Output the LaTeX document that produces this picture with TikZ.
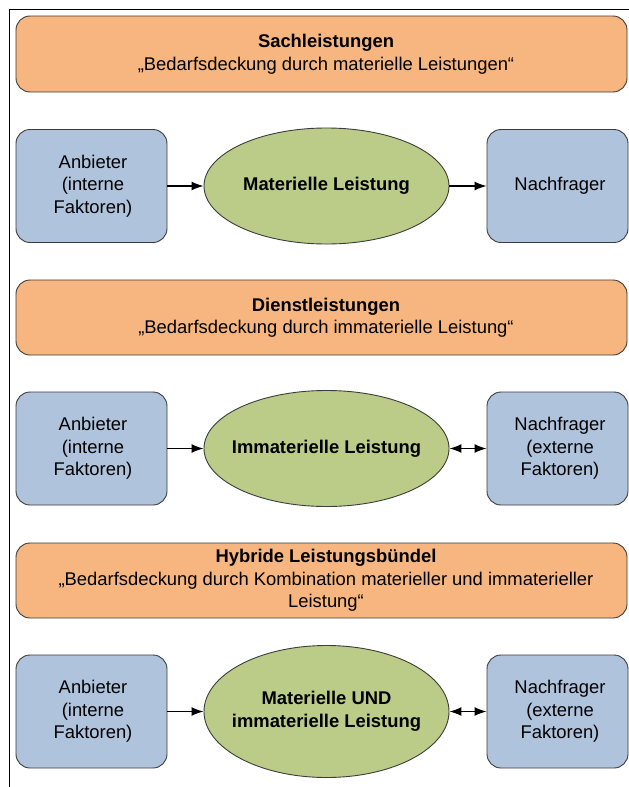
\documentclass[tikz,border=0pt]{standalone}
\usepackage{fontspec}
\setmainfont{Liberation Sans}
\usetikzlibrary{shapes.geometric,arrows.meta}

\definecolor{bandorange}{RGB}{247,182,127}
\definecolor{partyblue}{RGB}{176,195,220}
\definecolor{offergreen}{RGB}{186,204,135}
\definecolor{edgegray}{RGB}{60,60,60}

\begin{document}
\begin{tikzpicture}[x=1pt,y=-1pt,
  every node/.style={font=\fontsize{18.4}{22.5}\selectfont, text=black},
  band/.style={draw=edgegray, line width=0.9pt, fill=bandorange, rounded corners=14pt,
    minimum width=611pt, minimum height=76pt, inner sep=0pt},
  bandtext/.style={align=center, xshift=4.5pt},
  party/.style={draw=edgegray, line width=0.9pt, fill=partyblue, rounded corners=14pt,
    minimum height=113pt, align=center, inner sep=0pt},
  partytext/.style={align=center, xshift=2.5pt},
  offer/.style={ellipse, draw=edgegray, line width=0.9pt, fill=offergreen,
    minimum width=245pt, inner sep=0pt},
  offertext/.style={align=center, font=\fontsize{18.4}{22.5}\selectfont\bfseries},
  flow/.style={line width=1.4pt, -{Latex[length=12pt,width=9pt]}},
  exchange/.style={line width=1.4pt, {Latex[length=12pt,width=9pt]}-{Latex[length=12pt,width=9pt]}}
]
\useasboundingbox (0,0) rectangle (629,787);

% outer frame, open towards the right and bottom edges
\draw[line width=1pt, black] (9,787) -- (9,9) -- (629,9);

% --- Sachleistungen ---
\node[band, label={[bandtext]center:\textbf{Sachleistungen}\\„Bedarfsdeckung durch materielle Leistungen“}] (b1) at (321.5,54) {};
\node[party, minimum width=151pt] (a1) at (91.5,186) {\hspace*{3pt}Anbieter\\\hspace*{3pt}(interne\\\hspace*{3pt}Faktoren)};
\node[offer, minimum height=116pt, label={[offertext]center:Materielle Leistung}] (e1) at (326.5,186) {};
\node[party, minimum width=141pt, label={[partytext]center:Nachfrager}] (n1) at (557.5,186) {};
\draw[flow] (a1) -- (e1);
\draw[flow] (e1) -- (n1);

% --- Dienstleistungen ---
\node[band, minimum height=75pt, label={[bandtext]center:\textbf{Dienstleistungen}\\„Bedarfsdeckung durch immaterielle Leistung“}] (b2) at (321.5,317.5) {};
\node[party, minimum width=151pt] (a2) at (91.5,448.5) {\hspace*{3pt}Anbieter\\\hspace*{3pt}(interne\\\hspace*{3pt}Faktoren)};
\node[offer, minimum height=116pt, label={[offertext]center:Immaterielle Leistung}] (e2) at (326.5,448.5) {};
\node[party, minimum width=141pt, label={[partytext]center:Nachfrager\\(externe\\Faktoren)}] (n2) at (557.5,448.5) {};
\draw[flow] (a2) -- (e2);
\draw[exchange] (e2) -- (n2);

% --- Hybride Leistungsbündel ---
\node[band, minimum height=75pt, label={[bandtext]center:\textbf{Hybride Leistungsbündel}\\„Bedarfsdeckung durch Kombination materieller und immaterieller\\Leistung“}] (b3) at (321.5,580.5) {};
\node[party, minimum width=151pt] (a3) at (91.5,711.5) {\hspace*{3pt}Anbieter\\\hspace*{3pt}(interne\\\hspace*{3pt}Faktoren)};
\node[offer, minimum height=132pt, label={[offertext]center:Materielle UND\\immaterielle Leistung}] (e3) at (326.5,711.5) {};
\node[party, minimum width=141pt, label={[partytext]center:Nachfrager\\(externe\\Faktoren)}] (n3) at (557.5,711.5) {};
\draw[flow] (a3) -- (e3);
\draw[exchange] (e3) -- (n3);
\end{tikzpicture}
\end{document}
